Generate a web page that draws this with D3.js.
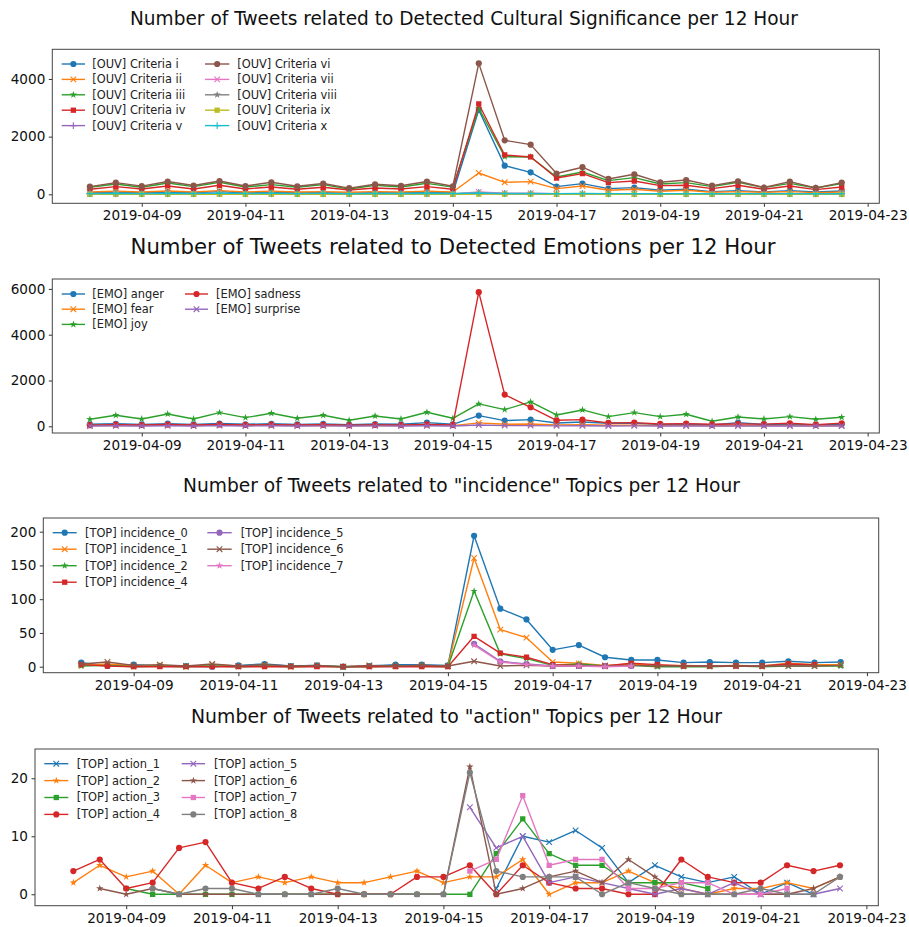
<!DOCTYPE html>
<html>
<head>
<meta charset="utf-8">
<script src="https://cdn.jsdelivr.net/npm/d3@7"></script>
<style>
  body { margin: 0; background: #fff; }
  svg { display: block; font-family: "DejaVu Sans", sans-serif; }
</style>
</head>
<body>
<div id="chart"></div>
<script>
// 12-hour bins
const times = [
  "2019-04-08 00:00", "2019-04-08 12:00", "2019-04-09 00:00", "2019-04-09 12:00",
  "2019-04-10 00:00", "2019-04-10 12:00", "2019-04-11 00:00", "2019-04-11 12:00",
  "2019-04-12 00:00", "2019-04-12 12:00", "2019-04-13 00:00", "2019-04-13 12:00",
  "2019-04-14 00:00", "2019-04-14 12:00", "2019-04-15 00:00", "2019-04-15 12:00",
  "2019-04-16 00:00", "2019-04-16 12:00", "2019-04-17 00:00", "2019-04-17 12:00",
  "2019-04-18 00:00", "2019-04-18 12:00", "2019-04-19 00:00", "2019-04-19 12:00",
  "2019-04-20 00:00", "2019-04-20 12:00", "2019-04-21 00:00", "2019-04-21 12:00",
  "2019-04-22 00:00", "2019-04-22 12:00"
];
const xTickLabels = ["2019-04-09", "2019-04-11", "2019-04-13", "2019-04-15", "2019-04-17", "2019-04-19", "2019-04-21", "2019-04-23"];

// panel 1: OUV criteria
const critI    = [46, 69, 46, 81, 50, 92, 46, 69, 46, 58, 35, 58, 46, 81, 46, 2925, 994, 763, 266, 370, 197, 231, 139, 173, 92, 127, 81, 127, 81, 116];
const critII   = [81, 104, 81, 115, 81, 127, 81, 104, 81, 92, 69, 92, 81, 104, 81, 740, 416, 439, 197, 289, 139, 173, 104, 139, 69, 92, 69, 92, 58, 81];
const critIII  = [243, 358, 243, 393, 266, 416, 254, 335, 243, 335, 185, 312, 254, 381, 250, 2983, 1306, 1295, 601, 774, 474, 578, 358, 405, 266, 416, 231, 381, 220, 370];
const critIV   = [173, 266, 185, 289, 185, 312, 185, 254, 173, 243, 150, 219, 185, 266, 173, 3133, 1364, 1295, 566, 717, 405, 462, 300, 312, 197, 312, 173, 289, 162, 254];
const critV    = [10, 15, 10, 15, 10, 18, 10, 15, 10, 12, 8, 12, 10, 15, 10, 60, 25, 25, 15, 18, 10, 12, 10, 10, 8, 10, 8, 10, 8, 10];
const critVI   = [265, 405, 283, 445, 306, 462, 289, 416, 278, 375, 214, 347, 295, 445, 280, 4541, 1873, 1722, 722, 940, 532, 694, 416, 497, 300, 451, 237, 440, 220, 405];
const critVII  = [15, 25, 15, 25, 18, 28, 15, 22, 15, 20, 12, 20, 15, 25, 15, 85, 40, 35, 20, 25, 15, 18, 12, 15, 10, 15, 10, 15, 10, 12];
const critVIII = [5, 8, 5, 8, 5, 10, 5, 8, 5, 6, 4, 6, 5, 8, 5, 30, 12, 12, 6, 8, 5, 6, 4, 5, 3, 5, 3, 5, 3, 4];
const critIX   = [2, 3, 2, 3, 2, 4, 2, 3, 2, 2, 1, 2, 2, 3, 2, 10, 5, 5, 2, 3, 2, 2, 1, 2, 1, 2, 1, 2, 1, 1];
const critX    = [25, 35, 25, 38, 28, 40, 26, 35, 25, 32, 20, 30, 26, 38, 26, 45, 30, 30, 25, 28, 22, 25, 20, 22, 18, 22, 18, 22, 18, 20];

// panel 2: emotions
const emoAnger    = [90, 110, 85, 115, 85, 120, 90, 110, 85, 105, 70, 100, 90, 160, 87, 466, 248, 291, 146, 189, 131, 131, 73, 100, 60, 160, 80, 95, 60, 87];
const emoFear     = [30, 45, 30, 50, 30, 50, 35, 45, 30, 40, 25, 40, 30, 50, 30, 150, 90, 100, 60, 70, 45, 50, 35, 40, 25, 35, 30, 35, 25, 30];
const emoJoy      = [306, 481, 320, 539, 320, 597, 379, 568, 350, 481, 262, 452, 320, 612, 350, 976, 729, 1064, 495, 714, 423, 597, 423, 525, 219, 408, 320, 423, 306, 393];
const emoSadness  = [50, 70, 55, 75, 55, 80, 60, 70, 55, 65, 45, 60, 55, 80, 60, 5857, 1384, 830, 262, 291, 146, 160, 102, 117, 87, 102, 95, 131, 73, 131];
const emoSurprise = [15, 25, 15, 25, 15, 30, 15, 25, 15, 20, 10, 20, 15, 25, 15, 58, 30, 30, 20, 25, 15, 20, 15, 15, 10, 15, 10, 15, 10, 15];

// panel 3: "incidence" topics (null = no tweets in that bin)
const inc0 = [6, 1, 3, 1, 1, 0, 2, 4, 1, 2, 0, 1, 3, 3, 2, 194, 86, 70, 25, 32, 14, 10, 10, 6, 7, 6, 6, 8, 6, 7];
const inc1 = [2, 4, 1, 2, 0, 3, 1, 2, 0, 1, 0, 1, 1, 2, 1, 161, 55, 43, 7, 5, 2, 4, 2, 2, 1, 2, 1, 5, 3, 3];
const inc2 = [1, 2, 0, 1, 0, 1, 0, 1, 0, 1, 0, 0, 1, 1, 0, 112, 19, 12, 2, 4, 1, 2, 0, 0, 0, 1, 0, 1, 1, 1];
const inc4 = [3, 1, 0, 0, 0, 0, 0, 0, 0, 0, 0, 0, 0, 0, 0, 45, 20, 14, 3, 2, 1, 5, 3, 1, 1, 1, 1, 4, 3, null];
const inc5 = [null, null, null, null, null, null, null, null, null, null, null, null, null, null, null, 34, 8, 4, 1, 1, 1, 1, null, null, null, null, null, null, null, null];
const inc6 = [4, 7, 2, 3, 1, 4, 1, 3, 1, 2, 0, 2, 1, 2, 1, 8, 1, 2, 1, 1, 1, 2, 1, 1, 1, 1, 1, 1, 1, 2];
const inc7 = [null, null, null, null, null, null, null, null, null, null, null, null, null, null, null, 32, 7, 3, 1, 1, 0, 1, null, null, null, null, null, null, null, null];

// panel 4: "action" topics
const act1 = [null, null, null, null, null, null, null, null, null, null, null, null, null, null, null, null, 1, 10, 9, 11, 8, 2, 5, 3, 2, 3, 0, 2, 0, null];
const act2 = [2, 5, 3, 4, 0, 5, 2, 3, 2, 3, 2, 2, 3, 4, 2, 3, 3, 6, 0, 2, 2, 4, 2, 1, 0, 1, 1, 2, 1, 3];
const act3 = [null, null, 1, 0, 0, 0, 0, 0, 0, 0, 0, 0, 0, 0, 0, 0, 7, 13, 7, 5, 5, 2, 2, 2, 1, null, null, null, null, null];
const act4 = [4, 6, 1, 2, 8, 9, 2, 1, 3, 1, 0, 0, 0, 3, 3, 5, 0, 5, 2, 1, 1, 0, 0, 6, 3, 2, 2, 5, 4, 5];
const act5 = [null, null, null, null, null, null, null, null, null, null, null, null, null, null, null, 15, 8, 10, 2, 3, 2, 1, 0, 1, 0, 2, 0, 0, 0, 1];
const act6 = [null, 1, 0, 1, 0, 0, 0, 0, 0, 0, 0, 0, 0, 0, 0, 22, 0, 1, 3, 4, 2, 6, 3, 0, 0, 0, 0, 0, 1, 3];
const act7 = [null, null, null, null, null, null, null, null, null, null, null, null, null, null, null, 4, 6, 17, 5, 6, 6, 1, 1, 2, 2, 0, 0, 1, null, null];
const act8 = [null, null, null, 1, 0, 1, 1, 0, 0, 0, 1, 0, 0, 0, 0, 21, 4, 3, 3, 3, 0, 2, 1, 0, 0, 0, 1, 0, 0, 3];

const tab10 = ['#1f77b4', '#ff7f0e', '#2ca02c', '#d62728', '#9467bd', '#8c564b', '#e377c2', '#7f7f7f', '#bcbd22', '#17becf'];

const width = 909, height = 927;
const parseTime = d3.timeParse('%Y-%m-%d %H:%M');
const parseDay = d3.timeParse('%Y-%m-%d');
const dates = times.map(parseTime);
const span = dates[dates.length - 1] - dates[0];
const xDomain = [new Date(+dates[0] - span * 0.05), new Date(+dates[dates.length - 1] + span * 0.05)];

const panels = [
  {
    title: 'Number of Tweets related to Detected Cultural Significance per 12 Hour',
    titleY: 25, titleX: 464, titleW: 668, titleSize: 19,
    box: { left: 52.3, right: 879.3, top: 49.3, bottom: 203.3 },
    yDomain: [-312, 5029], yTicks: [0, 2000, 4000],
    legend: { rowY: 14.7, rowStep: 15.4, cols: [[9.4, 32.7, 40], [152.7, 177, 185]], perCol: 5 },
    series: [
      ['[OUV] Criteria i', critI, 'o'], ['[OUV] Criteria ii', critII, 'x'],
      ['[OUV] Criteria iii', critIII, '*'], ['[OUV] Criteria iv', critIV, 's'],
      ['[OUV] Criteria v', critV, '+'], ['[OUV] Criteria vi', critVI, 'o'],
      ['[OUV] Criteria vii', critVII, 'x'], ['[OUV] Criteria viii', critVIII, '*'],
      ['[OUV] Criteria ix', critIX, 's'], ['[OUV] Criteria x', critX, '+']
    ]
  },
  {
    title: 'Number of Tweets related to Detected Emotions per 12 Hour',
    titleY: 254, titleX: 453, titleW: 645, titleSize: 21.5,
    box: { left: 52.3, right: 879.3, top: 279, bottom: 433 },
    yDomain: [-293, 6432], yTicks: [0, 2000, 4000, 6000],
    legend: { rowY: 15, rowStep: 15.2, cols: [[9.4, 32.7, 40], [132.7, 155.7, 163.7]], perCol: 3 },
    series: [
      ['[EMO] anger', emoAnger, 'o'], ['[EMO] fear', emoFear, 'x'], ['[EMO] joy', emoJoy, '*'],
      ['[EMO] sadness', emoSadness, 'o'], ['[EMO] surprise', emoSurprise, 'x']
    ]
  },
  {
    title: 'Number of Tweets related to "incidence" Topics per 12 Hour',
    titleY: 492, titleX: 461.5, titleW: 557, titleSize: 19,
    box: { left: 43.3, right: 878.7, top: 518, bottom: 672.7 },
    yDomain: [-8.9, 220.3], yTicks: [0, 50, 100, 150, 200],
    legend: { rowY: 14.7, rowStep: 16.5, cols: [[9.4, 33.4, 41.7], [164, 188.4, 197.4]], perCol: 4 },
    series: [
      ['[TOP] incidence_0', inc0, 'o'], ['[TOP] incidence_1', inc1, 'x'],
      ['[TOP] incidence_2', inc2, '*'], ['[TOP] incidence_4', inc4, 's'],
      ['[TOP] incidence_5', inc5, 'o'], ['[TOP] incidence_6', inc6, 'x'],
      ['[TOP] incidence_7', inc7, '*']
    ]
  },
  {
    title: 'Number of Tweets related to "action" Topics per 12 Hour',
    titleY: 723, titleX: 456.5, titleW: 531, titleSize: 19,
    box: { left: 35, right: 878.3, top: 749, bottom: 905.7 },
    yDomain: [-1.97, 25.05], yTicks: [0, 10, 20],
    legend: { rowY: 14.7, rowStep: 16.9, cols: [[9.3, 33.3, 41.7], [146.7, 170, 179]], perCol: 4 },
    series: [
      ['[TOP] action_1', act1, 'x'], ['[TOP] action_2', act2, '*'],
      ['[TOP] action_3', act3, 's'], ['[TOP] action_4', act4, 'o'],
      ['[TOP] action_5', act5, 'x'], ['[TOP] action_6', act6, '*'],
      ['[TOP] action_7', act7, 's'], ['[TOP] action_8', act8, 'o']
    ]
  }
];

const svg = d3.select('#chart').append('svg')
  .attr('width', width)
  .attr('height', height);

function marker(sel, type, color) {
  const r = 2.8;
  if (type === 'x') {
    sel.append('path').attr('d', `M${-r},${-r}L${r},${r}M${-r},${r}L${r},${-r}`)
      .attr('fill', 'none').attr('stroke', color).attr('stroke-width', 1.1);
  } else if (type === '+') {
    sel.append('path').attr('d', 'M-3.3,0L3.3,0M0,-3.3L0,3.3')
      .attr('fill', 'none').attr('stroke', color).attr('stroke-width', 1.1);
  } else {
    const sym = type === 'o' ? d3.symbolCircle : type === 's' ? d3.symbolSquare : d3.symbolStar;
    const size = type === 'o' ? 30 : type === 's' ? 28 : 17;
    sel.append('path').attr('d', d3.symbol(sym, size)()).attr('fill', color);
  }
}

panels.forEach(p => {
  const b = p.box;
  const x = d3.scaleTime().domain(xDomain).range([b.left, b.right]);
  const y = d3.scaleLinear().domain(p.yDomain).range([b.bottom, b.top]);

  const g = svg.append('g');

  // title
  g.append('text')
    .attr('x', p.titleX)
    .attr('y', p.titleY)
    .attr('text-anchor', 'middle')
    .attr('font-size', p.titleSize)
    .attr('fill', '#111')
    .attr('textLength', p.titleW)
    .attr('lengthAdjust', 'spacingAndGlyphs')
    .text(p.title);

  // axes
  g.append('g')
    .attr('transform', `translate(0,${b.bottom})`)
    .call(d3.axisBottom(x)
      .tickValues(xTickLabels.map(parseDay))
      .tickFormat(d3.timeFormat('%Y-%m-%d'))
      .tickSize(3.5).tickPadding(3.8))
    .call(a => a.select('.domain').remove())
    .call(a => a.selectAll('text').attr('font-size', 13.6).attr('fill', '#111').attr('font-family', 'DejaVu Sans'))
    .call(a => a.selectAll('line').attr('stroke', '#333'));

  g.append('g')
    .attr('transform', `translate(${b.left},0)`)
    .call(d3.axisLeft(y).tickValues(p.yTicks).tickFormat(d3.format('d')).tickSize(3.5).tickPadding(3.5))
    .call(a => a.select('.domain').remove())
    .call(a => a.selectAll('text').attr('font-size', 13.6).attr('fill', '#111').attr('font-family', 'DejaVu Sans'))
    .call(a => a.selectAll('line').attr('stroke', '#333'));

  // plot area
  const clipId = 'clip' + p.titleY;
  svg.append('clipPath').attr('id', clipId)
    .append('rect').attr('x', b.left).attr('y', b.top)
    .attr('width', b.right - b.left).attr('height', b.bottom - b.top);

  const plot = g.append('g').attr('clip-path', `url(#${clipId})`);
  const line = d3.line()
    .defined(d => d.v !== null)
    .x(d => x(d.t))
    .y(d => y(d.v));

  p.series.forEach(([name, values, type], i) => {
    const color = tab10[i % 10];
    const pts = values.map((v, k) => ({ t: dates[k], v }));
    const sg = plot.append('g');
    sg.append('path')
      .datum(pts)
      .attr('d', line)
      .attr('fill', 'none')
      .attr('stroke', color)
      .attr('stroke-width', 1.4)
      .attr('stroke-linejoin', 'round');
    sg.selectAll('g.m')
      .data(pts.filter(d => d.v !== null))
      .join('g')
      .attr('class', 'm')
      .attr('transform', d => `translate(${x(d.t)},${y(d.v)})`)
      .each(function () { marker(d3.select(this), type, color); });
  });

  // frame
  g.append('rect')
    .attr('x', b.left).attr('y', b.top)
    .attr('width', b.right - b.left).attr('height', b.bottom - b.top)
    .attr('fill', 'none').attr('stroke', '#444').attr('stroke-width', 1);

  // legend
  const L = p.legend;
  p.series.forEach(([name, values, type], i) => {
    const color = tab10[i % 10];
    const col = L.cols[Math.floor(i / L.perCol)];
    const ry = b.top + L.rowY + (i % L.perCol) * L.rowStep;
    const lg = g.append('g');
    lg.append('line')
      .attr('x1', b.left + col[0]).attr('x2', b.left + col[1])
      .attr('y1', ry).attr('y2', ry)
      .attr('stroke', color).attr('stroke-width', 1.4);
    marker(lg.append('g').attr('transform', `translate(${b.left + (col[0] + col[1]) / 2},${ry})`), type, color);
    lg.append('text')
      .attr('x', b.left + col[2]).attr('y', ry)
      .attr('dy', '0.35em')
      .attr('font-size', 11.4)
      .attr('fill', '#222')
      .text(name);
  });
});
</script>
</body>
</html>
